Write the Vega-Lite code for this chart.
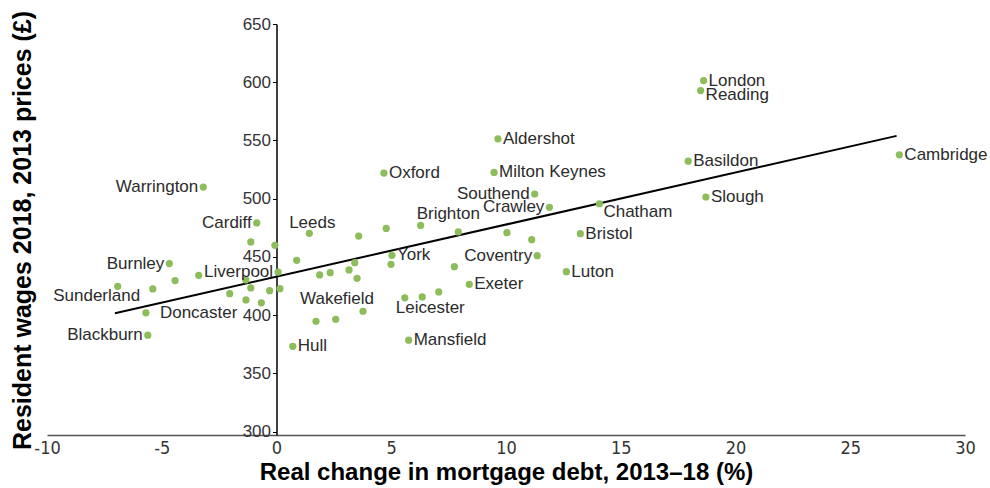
{
  "$schema": "https://vega.github.io/schema/vega-lite/v6.json",
  "width": 918,
  "height": 411,
  "autosize": {"type": "none"},
  "padding": {"left": 47, "top": 24, "right": 25, "bottom": 53},
  "background": "white",
  "config": {"view": {"stroke": null}, "font": "Liberation Sans"},
  "datasets": {
    "places": [
      {"city": "Warrington", "debt": -3.19, "wage": 509.9},
      {"city": "Cardiff", "debt": -0.86, "wage": 479.1},
      {"city": "", "debt": -1.12, "wage": 462.8},
      {"city": "", "debt": -0.07, "wage": 459.9},
      {"city": "Burnley", "debt": -4.67, "wage": 444.2},
      {"city": "", "debt": 0.88, "wage": 447.0},
      {"city": "Liverpool", "debt": 0.07, "wage": 436.9},
      {"city": "", "debt": -3.39, "wage": 434.1},
      {"city": "", "debt": -4.42, "wage": 429.6},
      {"city": "Sunderland", "debt": -6.92, "wage": 424.7},
      {"city": "", "debt": -5.39, "wage": 422.5},
      {"city": "", "debt": -1.34, "wage": 430.2},
      {"city": "", "debt": -1.12, "wage": 423.3},
      {"city": "", "debt": 0.15, "wage": 422.7},
      {"city": "", "debt": -0.30, "wage": 421.0},
      {"city": "", "debt": -2.04, "wage": 418.4},
      {"city": "", "debt": -1.33, "wage": 413.0},
      {"city": "", "debt": -0.66, "wage": 410.5},
      {"city": "Doncaster", "debt": -5.69, "wage": 401.9},
      {"city": "Blackburn", "debt": -5.61, "wage": 382.7},
      {"city": "Hull", "debt": 0.71, "wage": 373.2},
      {"city": "Leeds", "debt": 1.43, "wage": 470.2},
      {"city": "", "debt": 3.58, "wage": 467.9},
      {"city": "", "debt": 4.78, "wage": 474.4},
      {"city": "Brighton", "debt": 6.28, "wage": 477.0},
      {"city": "", "debt": 1.88, "wage": 434.5},
      {"city": "", "debt": 2.34, "wage": 436.4},
      {"city": "", "debt": 3.16, "wage": 438.8},
      {"city": "", "debt": 3.41, "wage": 445.0},
      {"city": "", "debt": 3.51, "wage": 431.6},
      {"city": "York", "debt": 5.03, "wage": 451.3},
      {"city": "", "debt": 4.99, "wage": 443.6},
      {"city": "Leicester", "debt": 5.59, "wage": 414.8},
      {"city": "", "debt": 6.35, "wage": 415.6},
      {"city": "", "debt": 7.07, "wage": 419.9},
      {"city": "Wakefield", "debt": 3.77, "wage": 403.3},
      {"city": "", "debt": 1.72, "wage": 394.7},
      {"city": "", "debt": 2.58, "wage": 396.4},
      {"city": "Mansfield", "debt": 5.76, "wage": 378.4},
      {"city": "Oxford", "debt": 4.68, "wage": 522.0},
      {"city": "Milton Keynes", "debt": 9.48, "wage": 522.5},
      {"city": "Southend", "debt": 11.25, "wage": 504.0},
      {"city": "Crawley", "debt": 11.89, "wage": 492.6},
      {"city": "Chatham", "debt": 14.07, "wage": 495.6},
      {"city": "", "debt": 7.92, "wage": 471.4},
      {"city": "", "debt": 10.04, "wage": 470.8},
      {"city": "", "debt": 11.12, "wage": 464.8},
      {"city": "Bristol", "debt": 13.24, "wage": 469.9},
      {"city": "Coventry", "debt": 11.36, "wage": 451.0},
      {"city": "", "debt": 7.75, "wage": 441.6},
      {"city": "Exeter", "debt": 8.40, "wage": 426.4},
      {"city": "Luton", "debt": 12.63, "wage": 437.3},
      {"city": "London", "debt": 18.61, "wage": 601.4},
      {"city": "Reading", "debt": 18.48, "wage": 592.8},
      {"city": "Basildon", "debt": 17.94, "wage": 532.2},
      {"city": "Slough", "debt": 18.71, "wage": 501.4},
      {"city": "Cambridge", "debt": 27.14, "wage": 537.6},
      {"city": "Aldershot", "debt": 9.65, "wage": 551.4}
    ],
    "fit": [
      {"debt": -7.04, "wage": 401.5},
      {"debt": 27.02, "wage": 553.9}
    ]
  },
  "encoding": {
    "x": {
      "field": "debt", "type": "quantitative",
      "scale": {"domain": [-10, 30], "nice": false, "zero": false},
      "axis": {
        "values": [-10, -5, 0, 5, 10, 15, 20, 25, 30],
        "labelExpr": "datum.value < 0 ? '-' + abs(datum.value) : '' + datum.value",
        "title": "Real change in mortgage debt, 2013–18 (%)",
        "grid": false, "ticks": false,
        "domainColor": "#555555", "domainWidth": 1.5,
        "labelFont": "Liberation Sans Narrow, DejaVu Sans Condensed, Liberation Sans", "labelFontSize": 18,
        "labelColor": "#333333", "labelPadding": 4,
        "labelFlush": false, "labelOverlap": false,
        "titleFont": "Liberation Sans", "titleFontWeight": "bold",
        "titleFontSize": 24, "titleColor": "#000000", "titlePadding": 3
      }
    },
    "y": {
      "field": "wage", "type": "quantitative",
      "scale": {"domain": [297, 650], "nice": false, "zero": false},
      "axis": {
        "values": [300, 350, 400, 450, 500, 550, 600, 650],
        "offset": -229.5,
        "grid": false,
        "domainColor": "#000000", "domainWidth": 1.5,
        "tickColor": "#000000", "tickSize": 4,
        "labelFontSize": 17, "labelColor": "#333333", "labelPadding": 2,
        "labelFlush": false, "labelOverlap": false,
        "title": "Resident wages 2018, 2013 prices (£)",
        "titleX": -254.5, "titleY": 206, "titleAngle": 270,
        "titleAlign": "center", "titleBaseline": "middle",
        "titleFontSize": 25, "titleFontWeight": "bold", "titleColor": "#000000"
      }
    }
  },
  "layer": [
    {
      "data": {"name": "fit"},
      "mark": {"type": "line", "color": "#000000", "strokeWidth": 2}
    },
    {
      "data": {"name": "places"},
      "mark": {"type": "circle", "size": 52, "color": "#8cbd5a", "opacity": 1}
    },
    {
      "data": {"name": "places"},
      "transform": [{"filter": {"field": "city", "oneOf": ["Hull", "Mansfield", "York", "Oxford", "Milton Keynes", "Exeter", "Bristol", "Luton", "London", "Basildon", "Slough", "Cambridge", "Aldershot"]}}],
      "mark": {"type": "text", "align": "left", "baseline": "middle", "dx": 5, "fontSize": 17, "color": "#2b2b2b"},
      "encoding": {"text": {"field": "city"}}
    },
    {
      "data": {"name": "places"},
      "transform": [{"filter": {"field": "city", "oneOf": ["Reading"]}}],
      "mark": {"type": "text", "align": "left", "baseline": "middle", "dx": 5, "dy": 4, "fontSize": 17, "color": "#2b2b2b"},
      "encoding": {"text": {"field": "city"}}
    },
    {
      "data": {"name": "places"},
      "transform": [{"filter": {"field": "city", "oneOf": ["Chatham"]}}],
      "mark": {"type": "text", "align": "left", "baseline": "middle", "dx": 4, "dy": 8, "fontSize": 17, "color": "#2b2b2b"},
      "encoding": {"text": {"field": "city"}}
    },
    {
      "data": {"name": "places"},
      "transform": [{"filter": {"field": "city", "oneOf": ["Doncaster"]}}],
      "mark": {"type": "text", "align": "left", "baseline": "middle", "dx": 14, "fontSize": 17, "color": "#2b2b2b"},
      "encoding": {"text": {"field": "city"}}
    },
    {
      "data": {"name": "places"},
      "transform": [{"filter": {"field": "city", "oneOf": ["Warrington", "Cardiff", "Burnley", "Liverpool", "Blackburn", "Southend", "Crawley", "Coventry"]}}],
      "mark": {"type": "text", "align": "right", "baseline": "middle", "dx": -5, "fontSize": 17, "color": "#2b2b2b"},
      "encoding": {"text": {"field": "city"}}
    },
    {
      "data": {"name": "places"},
      "transform": [{"filter": {"field": "city", "oneOf": ["Leeds"]}}],
      "mark": {"type": "text", "align": "center", "baseline": "middle", "dx": 3, "dy": -10, "fontSize": 17, "color": "#2b2b2b"},
      "encoding": {"text": {"field": "city"}}
    },
    {
      "data": {"name": "places"},
      "transform": [{"filter": {"field": "city", "oneOf": ["Brighton"]}}],
      "mark": {"type": "text", "align": "left", "baseline": "middle", "dx": -4, "dy": -11, "fontSize": 17, "color": "#2b2b2b"},
      "encoding": {"text": {"field": "city"}}
    },
    {
      "data": {"name": "places"},
      "transform": [{"filter": {"field": "city", "oneOf": ["Wakefield"]}}],
      "mark": {"type": "text", "align": "right", "baseline": "middle", "dx": 11, "dy": -12, "fontSize": 17, "color": "#2b2b2b"},
      "encoding": {"text": {"field": "city"}}
    },
    {
      "data": {"name": "places"},
      "transform": [{"filter": {"field": "city", "oneOf": ["Leicester"]}}],
      "mark": {"type": "text", "align": "left", "baseline": "middle", "dx": -9, "dy": 10, "fontSize": 17, "color": "#2b2b2b"},
      "encoding": {"text": {"field": "city"}}
    },
    {
      "data": {"name": "places"},
      "transform": [{"filter": {"field": "city", "oneOf": ["Sunderland"]}}],
      "mark": {"type": "text", "align": "center", "baseline": "middle", "dx": -21, "dy": 10, "fontSize": 17, "color": "#2b2b2b"},
      "encoding": {"text": {"field": "city"}}
    }
  ]
}
